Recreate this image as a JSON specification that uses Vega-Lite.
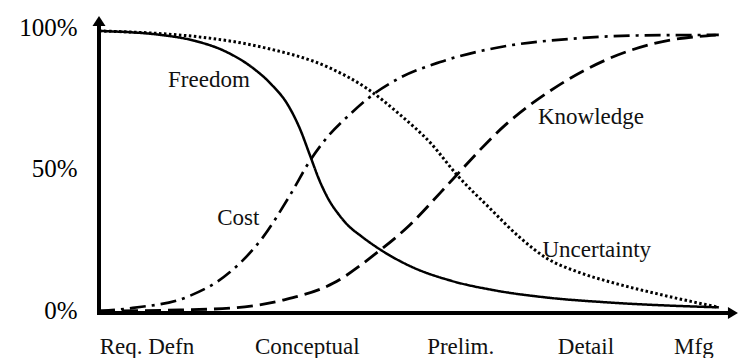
{
  "$schema": "https://vega.github.io/schema/vega-lite/v6.json",
  "width": 639,
  "height": 297,
  "autosize": {"type": "none"},
  "padding": {"left": 99, "top": 16, "right": 0, "bottom": 45},
  "background": "white",
  "config": {"view": {"stroke": null}, "font": "Liberation Serif"},
  "datasets": {
    "curves": [
      {"series": "Freedom", "x": 0, "y": 100},
      {"series": "Freedom", "x": 10, "y": 98.5},
      {"series": "Freedom", "x": 15, "y": 96.5},
      {"series": "Freedom", "x": 20, "y": 92.5},
      {"series": "Freedom", "x": 24, "y": 87},
      {"series": "Freedom", "x": 27, "y": 81},
      {"series": "Freedom", "x": 29.5, "y": 74},
      {"series": "Freedom", "x": 31.5, "y": 65},
      {"series": "Freedom", "x": 33, "y": 56},
      {"series": "Freedom", "x": 34.5, "y": 47},
      {"series": "Freedom", "x": 36, "y": 40},
      {"series": "Freedom", "x": 37.5, "y": 35},
      {"series": "Freedom", "x": 39, "y": 31},
      {"series": "Freedom", "x": 41, "y": 27.3},
      {"series": "Freedom", "x": 44, "y": 22.5},
      {"series": "Freedom", "x": 49, "y": 16.3},
      {"series": "Freedom", "x": 55, "y": 11.5},
      {"series": "Freedom", "x": 62, "y": 8},
      {"series": "Freedom", "x": 70, "y": 5.5},
      {"series": "Freedom", "x": 80, "y": 3.7},
      {"series": "Freedom", "x": 97, "y": 2},
      {"series": "Uncertainty", "x": 0, "y": 100},
      {"series": "Uncertainty", "x": 10, "y": 99},
      {"series": "Uncertainty", "x": 16, "y": 97.8},
      {"series": "Uncertainty", "x": 26, "y": 94},
      {"series": "Uncertainty", "x": 36, "y": 87},
      {"series": "Uncertainty", "x": 42, "y": 79.5},
      {"series": "Uncertainty", "x": 47, "y": 70.5},
      {"series": "Uncertainty", "x": 52, "y": 60},
      {"series": "Uncertainty", "x": 56, "y": 49},
      {"series": "Uncertainty", "x": 61, "y": 37.5},
      {"series": "Uncertainty", "x": 66, "y": 26.5},
      {"series": "Uncertainty", "x": 70, "y": 19.5},
      {"series": "Uncertainty", "x": 75, "y": 14.5},
      {"series": "Uncertainty", "x": 80, "y": 11},
      {"series": "Uncertainty", "x": 87, "y": 7},
      {"series": "Uncertainty", "x": 97, "y": 2},
      {"series": "Cost", "x": 0, "y": 0.7},
      {"series": "Cost", "x": 5.3, "y": 1.8},
      {"series": "Cost", "x": 13.8, "y": 5.7},
      {"series": "Cost", "x": 20.5, "y": 14.5},
      {"series": "Cost", "x": 25.7, "y": 27.0},
      {"series": "Cost", "x": 29.9, "y": 41.8},
      {"series": "Cost", "x": 33.1, "y": 54.3},
      {"series": "Cost", "x": 35.6, "y": 62.0},
      {"series": "Cost", "x": 39.3, "y": 70.5},
      {"series": "Cost", "x": 42.9, "y": 77.5},
      {"series": "Cost", "x": 47.2, "y": 83.5},
      {"series": "Cost", "x": 53.4, "y": 89.0},
      {"series": "Cost", "x": 63.3, "y": 94.5},
      {"series": "Cost", "x": 73.8, "y": 97.2},
      {"series": "Cost", "x": 84.3, "y": 98.4},
      {"series": "Cost", "x": 97.0, "y": 98.6},
      {"series": "Knowledge", "x": 0, "y": 0.7},
      {"series": "Knowledge", "x": 12.7, "y": 1.1},
      {"series": "Knowledge", "x": 21.0, "y": 1.8},
      {"series": "Knowledge", "x": 28.8, "y": 4.6},
      {"series": "Knowledge", "x": 36.7, "y": 10.6},
      {"series": "Knowledge", "x": 43.6, "y": 21.6},
      {"series": "Knowledge", "x": 48.3, "y": 30.5},
      {"series": "Knowledge", "x": 53.4, "y": 42.6},
      {"series": "Knowledge", "x": 55.8, "y": 48.5},
      {"series": "Knowledge", "x": 63.6, "y": 66.7},
      {"series": "Knowledge", "x": 71.5, "y": 80.1},
      {"series": "Knowledge", "x": 79.3, "y": 89.7},
      {"series": "Knowledge", "x": 87.1, "y": 95.7},
      {"series": "Knowledge", "x": 97.0, "y": 98.6}
    ],
    "labels": [
      {"label": "Freedom", "x": 17.2, "y": 82.6},
      {"label": "Cost", "x": 21.8, "y": 33.7},
      {"label": "Knowledge", "x": 77.0, "y": 69.5},
      {"label": "Uncertainty", "x": 77.9, "y": 22.3}
    ],
    "stages": [
      {"stage": "Req. Defn", "x": 7.5},
      {"stage": "Conceptual", "x": 32.6},
      {"stage": "Prelim.", "x": 56.6},
      {"stage": "Detail", "x": 76.2},
      {"stage": "Mfg", "x": 93.1}
    ],
    "one": [{}]
  },
  "layer": [
    {
      "data": {"name": "curves"},
      "mark": {"type": "line", "interpolate": "monotone", "strokeCap": "butt", "color": "black"},
      "encoding": {
        "x": {"field": "x", "type": "quantitative", "scale": {"domain": [0, 100], "nice": false, "zero": false}, "axis": null},
        "y": {"field": "y", "type": "quantitative", "scale": {"domain": [0, 105.3], "nice": false},
          "axis": {"values": [0, 50, 100], "labelExpr": "datum.value + '%'", "domain": false, "ticks": false, "grid": false, "labelFontSize": 25, "labelColor": "black", "labelPadding": 22, "labelOffset": -3, "labelFont": "Liberation Serif", "title": null}},
        "detail": {"field": "series"},
        "strokeDash": {"field": "series", "type": "nominal", "legend": null,
          "scale": {"domain": ["Freedom", "Cost", "Knowledge", "Uncertainty"], "range": [[1, 0], [16, 6, 3, 6], [16, 7], [2.5, 2.5]]}},
        "strokeWidth": {"field": "series", "type": "nominal", "legend": null,
          "scale": {"domain": ["Freedom", "Cost", "Knowledge", "Uncertainty"], "range": [2.5, 3, 3, 3]}}
      }
    },
    {
      "data": {"name": "labels"},
      "mark": {"type": "text", "fontSize": 23, "font": "Liberation Serif", "color": "#111", "align": "center", "baseline": "middle"},
      "encoding": {
        "x": {"field": "x", "type": "quantitative"},
        "y": {"field": "y", "type": "quantitative"},
        "text": {"field": "label"}
      }
    },
    {
      "data": {"name": "stages"},
      "mark": {"type": "text", "fontSize": 23, "font": "Liberation Serif", "color": "#111", "align": "center", "baseline": "middle", "dy": 34},
      "encoding": {
        "x": {"field": "x", "type": "quantitative"},
        "y": {"datum": 0},
        "text": {"field": "stage"}
      }
    },
    {
      "data": {"name": "one"},
      "mark": {"type": "rule", "strokeWidth": 4, "color": "black", "strokeCap": "butt"},
      "encoding": {"x": {"datum": 0}, "y": {"datum": -0.7}, "y2": {"datum": 102}}
    },
    {
      "data": {"name": "one"},
      "mark": {"type": "rule", "strokeWidth": 4, "color": "black", "strokeCap": "butt"},
      "encoding": {"y": {"datum": 0}, "x": {"datum": -0.3}, "x2": {"datum": 98.5}}
    },
    {
      "data": {"name": "one"},
      "mark": {"type": "point", "shape": "M0,-1L0.65,0L-0.65,0Z", "size": 400, "filled": true, "color": "black", "opacity": 1},
      "encoding": {"x": {"datum": 0}, "y": {"datum": 101.75}}
    },
    {
      "data": {"name": "one"},
      "mark": {"type": "point", "shape": "M1,0L0,-0.6L0,0.6Z", "size": 400, "filled": true, "color": "black", "opacity": 1},
      "encoding": {"x": {"datum": 98.43}, "y": {"datum": 0}}
    }
  ]
}
